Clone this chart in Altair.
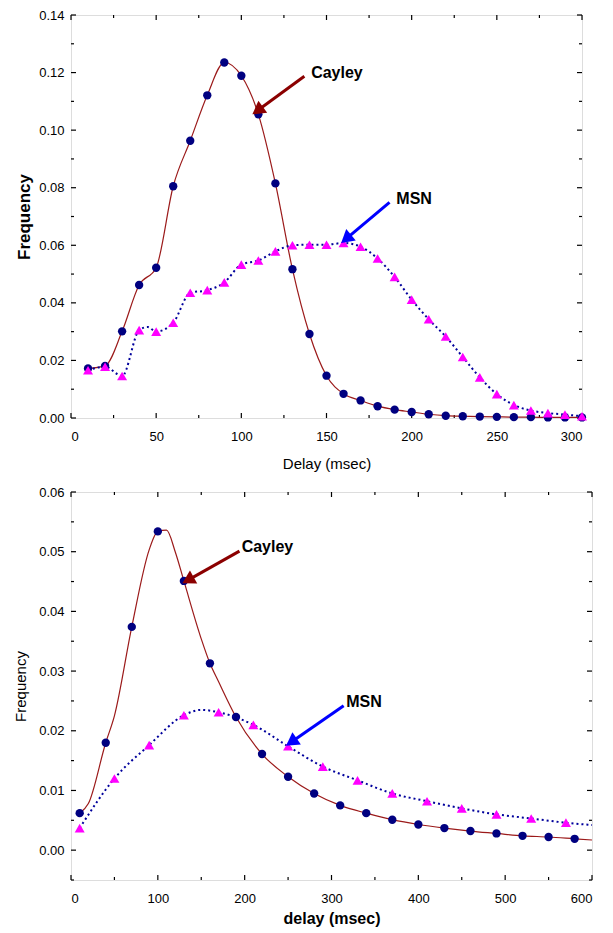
import math
import altair as alt
import pandas as pd

FONT = "Liberation Sans"

# ---------------- top panel data ----------------
top_x = list(range(10, 301, 10))
top_cayley = [0.0172, 0.0181, 0.0301, 0.0462, 0.0522, 0.0805, 0.0963, 0.1121, 0.1235, 0.1189,
              0.1055, 0.0815, 0.0517, 0.0292, 0.0147, 0.0084, 0.0061, 0.0041, 0.0029, 0.0021,
              0.0013, 0.0008, 0.0006, 0.0005, 0.0004, 0.0003, 0.0003, 0.0002, 0.0002, 0.0002]
top_msn = [0.0166, 0.0178, 0.0146, 0.0305, 0.0300, 0.0331, 0.0435, 0.0444, 0.0471, 0.0533,
           0.0547, 0.0579, 0.0600, 0.0602, 0.0602, 0.0608, 0.0595, 0.0554, 0.0490, 0.0411,
           0.0343, 0.0283, 0.0212, 0.0141, 0.0083, 0.0045, 0.0026, 0.0017, 0.0012, 0.0006]
top_msn_line_extra_x = [45]
top_msn_line_extra_y = [0.0316]

top_x_major = [0, 50, 100, 150, 200, 250, 300]
top_x_minor = [25, 75, 125, 175, 225, 275]
top_y_major = [0.00, 0.02, 0.04, 0.06, 0.08, 0.10, 0.12, 0.14]
top_y_minor = [0.01, 0.03, 0.05, 0.07, 0.09, 0.11, 0.13]

top_labels = ["Cayley", "MSN"]
top_label_x = [141, 191]
top_label_y = [0.1198, 0.0762]
top_arrow_tail_x = [137, 187]
top_arrow_tail_y = [0.1187, 0.0749]
top_arrow_tip_x = [106.5, 158.6]
top_arrow_tip_y = [0.1055, 0.0608]

# ---------------- bottom panel data ----------------
bot_cayley_x = list(range(10, 581, 30))
bot_cayley = [0.0062, 0.0180, 0.0374, 0.0534, 0.0451, 0.0313, 0.0223, 0.0161, 0.0123, 0.0095,
              0.0075, 0.0062, 0.0051, 0.0043, 0.0037, 0.0032, 0.0028, 0.0024, 0.0022, 0.0019]
bot_msn_x = list(range(10, 571, 40))
bot_msn = [0.0037, 0.0120, 0.0176, 0.0226, 0.0231, 0.0210, 0.0174, 0.0140, 0.0117, 0.0095,
           0.0082, 0.0070, 0.0060, 0.0053, 0.0046]
bot_cayley_line_extra_x = [20, 50, 90, 110, 120, 150, 170, 600]
bot_cayley_line_extra_y = [0.0078, 0.0225, 0.0503, 0.0536, 0.0500, 0.0354, 0.0282, 0.0017]
bot_msn_line_extra_x = [150, 600]
bot_msn_line_extra_y = [0.0235, 0.0042]

bot_x_major = [0, 100, 200, 300, 400, 500, 600]
bot_x_minor = [50, 150, 250, 350, 450, 550]
bot_y_major = [0.00, 0.01, 0.02, 0.03, 0.04, 0.05, 0.06]
bot_y_minor = [-0.005, 0.005, 0.015, 0.025, 0.035, 0.045, 0.055]

bot_labels = ["Cayley", "MSN"]
bot_label_x = [196.5, 317]
bot_label_y = [0.0508, 0.0248]
bot_arrow_tail_x = [194, 314]
bot_arrow_tail_y = [0.0501, 0.0242]
bot_arrow_tip_x = [128.3, 247.7]
bot_arrow_tip_y = [0.0447, 0.0175]

CAYLEY_LINE = "#9b1a1a"
MARK_NAVY = "#000080"
MSN_LINE = "#00009c"
MSN_MARK = "#ff00ff"
ARROW_COLORS = ["#8b0000", "#0000ff"]


def merge_line(xs, ys, ex, ey):
    pts = sorted(list(zip(xs, ys)) + list(zip(ex, ey)))
    return pd.DataFrame({"x": [p[0] for p in pts], "y": [p[1] for p in pts]})


def panel(W, H, xdom, ydom, xvals, yvals, xminor, yminor,
          cay_x, cay_y, cay_line, msn_x, msn_y, msn_line,
          labels, lx, ly, tx, ty, hx, hy,
          xtitle, xtitle_bold, ytitle, ytitle_bold, ytitle_size, xtitle_size,
          ylab_pad, ytitle_pad, xlab_pad, xtitle_pad):
    xs = alt.Scale(domain=xdom, nice=False, zero=False)
    ys = alt.Scale(domain=ydom, nice=False, zero=False)
    xaxis = alt.Axis(values=xvals, format="d", title=xtitle, ticks=False, tickSize=0,
                     domain=False, grid=False, labelPadding=xlab_pad, titlePadding=xtitle_pad,
                     labelFont=FONT, labelFontSize=13, labelColor="black",
                     titleFont=FONT, titleFontSize=xtitle_size,
                     titleFontWeight="bold" if xtitle_bold else "normal", titleColor="black")
    yaxis = alt.Axis(values=yvals, format=".2f", title=ytitle, ticks=False, tickSize=0,
                     domain=False, grid=False, labelPadding=ylab_pad, titlePadding=ytitle_pad,
                     labelFont=FONT, labelFontSize=13, labelColor="black",
                     titleFont=FONT, titleFontSize=ytitle_size,
                     titleFontWeight="bold" if ytitle_bold else "normal", titleColor="black")
    X = alt.X("x:Q", scale=xs, axis=xaxis)
    Y = alt.Y("y:Q", scale=ys, axis=yaxis)

    layers = []
    # inward ticks on all four sides
    for vals, ln in ((yvals, 5), (yminor, 3)):
        d = pd.DataFrame({"y": vals})
        layers.append(alt.Chart(d).mark_rule(color="black", strokeWidth=1.2).encode(
            y=Y, x=alt.value(0), x2=alt.value(ln)))
        layers.append(alt.Chart(d).mark_rule(color="black", strokeWidth=1.2).encode(
            y=Y, x=alt.value(W), x2=alt.value(W - ln)))
    for vals, ln in ((xvals, 5), (xminor, 3)):
        d = pd.DataFrame({"x": vals})
        layers.append(alt.Chart(d).mark_rule(color="black", strokeWidth=1.2).encode(
            x=X, y=alt.value(H), y2=alt.value(H - ln)))
        layers.append(alt.Chart(d).mark_rule(color="black", strokeWidth=1.2).encode(
            x=X, y=alt.value(0), y2=alt.value(ln)))

    # series
    layers.append(alt.Chart(cay_line).mark_line(color=CAYLEY_LINE, strokeWidth=1.2,
                                                interpolate="monotone").encode(x=X, y=Y))
    layers.append(alt.Chart(pd.DataFrame({"x": cay_x, "y": cay_y})).mark_point(
        shape="circle", filled=True, color=MARK_NAVY, size=70, opacity=1).encode(x=X, y=Y))
    layers.append(alt.Chart(msn_line).mark_line(color=MSN_LINE, strokeWidth=2,
                                                strokeDash=[2, 3],
                                                interpolate="monotone").encode(x=X, y=Y))
    layers.append(alt.Chart(pd.DataFrame({"x": msn_x, "y": msn_y})).mark_point(
        shape="triangle-up", filled=True, color=MSN_MARK, size=100, opacity=1).encode(x=X, y=Y))

    # arrows
    def to_px(x, y):
        return ((x - xdom[0]) / (xdom[1] - xdom[0]) * W,
                H - (y - ydom[0]) / (ydom[1] - ydom[0]) * H)

    def to_data(px, py):
        return (xdom[0] + px / W * (xdom[1] - xdom[0]),
                ydom[0] + (H - py) / H * (ydom[1] - ydom[0]))

    head_size = 220
    r = math.sqrt(head_size) / 2
    shaft_rows, head_rows = [], []
    for i in range(len(labels)):
        tpx, tpy = to_px(tx[i], ty[i])
        hpx, hpy = to_px(hx[i], hy[i])
        dx, dy = hpx - tpx, hpy - tpy
        L = math.hypot(dx, dy)
        ux, uy = dx / L, dy / L
        cpx, cpy = hpx - ux * 0.866 * r, hpy - uy * 0.866 * r
        cx, cy = to_data(cpx, cpy)
        ang = math.degrees(math.atan2(ux, -uy)) % 360
        shaft_rows.append({"id": i, "x": tx[i], "y": ty[i], "c": ARROW_COLORS[i]})
        shaft_rows.append({"id": i, "x": cx, "y": cy, "c": ARROW_COLORS[i]})
        head_rows.append({"x": cx, "y": cy, "a": ang, "c": ARROW_COLORS[i]})
    layers.append(alt.Chart(pd.DataFrame(shaft_rows)).mark_line(strokeWidth=3).encode(
        x=X, y=Y, detail="id:N", color=alt.Color("c:N", scale=None)))
    layers.append(alt.Chart(pd.DataFrame(head_rows)).mark_point(
        shape="triangle-up", filled=True, size=head_size, opacity=1).encode(
        x=X, y=Y, angle=alt.Angle("a:Q", scale=None), color=alt.Color("c:N", scale=None)))
    layers.append(alt.Chart(pd.DataFrame({"x": lx, "y": ly, "t": labels})).mark_text(
        align="left", baseline="middle", font=FONT, fontSize=16, fontWeight="bold",
        color="black").encode(x=X, y=Y, text="t:N"))

    return alt.layer(*layers).properties(width=W, height=H)


top = panel(511, 403, [0, 300], [0, 0.14], top_x_major, top_y_major, top_x_minor, top_y_minor,
            top_x, top_cayley, pd.DataFrame({"x": top_x, "y": top_cayley}),
            top_x, top_msn, merge_line(top_x, top_msn, top_msn_line_extra_x, top_msn_line_extra_y),
            top_labels, top_label_x, top_label_y, top_arrow_tail_x, top_arrow_tail_y,
            top_arrow_tip_x, top_arrow_tip_y,
            "Delay (msec)", False, "Frequency", True, 17, 15,
            7, 5, 12, 13)

bottom = panel(521, 388, [0, 600], [-0.005, 0.06], bot_x_major, bot_y_major, bot_x_minor, bot_y_minor,
               bot_cayley_x, bot_cayley,
               merge_line(bot_cayley_x, bot_cayley, bot_cayley_line_extra_x, bot_cayley_line_extra_y),
               bot_msn_x, bot_msn, merge_line(bot_msn_x, bot_msn, bot_msn_line_extra_x, bot_msn_line_extra_y),
               bot_labels, bot_label_x, bot_label_y, bot_arrow_tail_x, bot_arrow_tail_y,
               bot_arrow_tip_x, bot_arrow_tip_y,
               "delay (msec)", True, "Frequency", False, 15, 16,
               7, 10, 12, 5)

chart = alt.vconcat(top, bottom, spacing=13).properties(
    padding={"top": 0, "left": 5, "right": 5, "bottom": 0}
).configure_view(stroke="black", strokeWidth=2).configure(background="white")

chart.save("out.html", embed_options={"renderer": "svg", "actions": False})
